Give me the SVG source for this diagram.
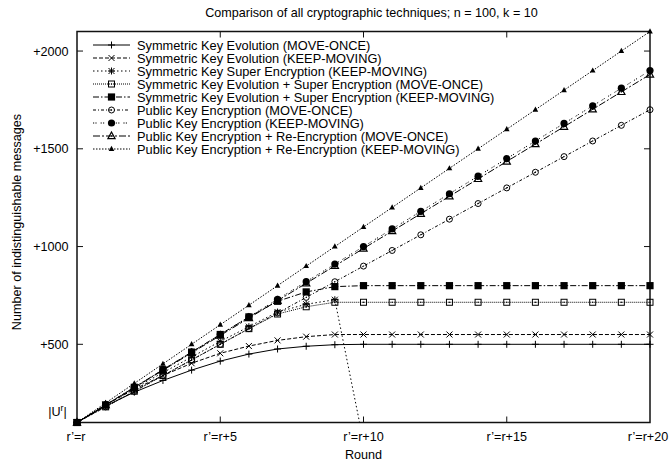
<svg xmlns="http://www.w3.org/2000/svg" width="670" height="460" viewBox="0 0 670 460">
<style>
text{font-family:"Liberation Sans",Arial,Helvetica,sans-serif;font-size:12.6px;fill:#000}
#legend text{font-size:12.8px}
.c{fill:none;stroke:#000;stroke-width:1}
.l1{}
.l2{stroke-dasharray:4,2}
.l3{stroke-dasharray:1.5,2.5}
.l4{stroke-dasharray:1,1}
.l5{stroke-dasharray:6,2,1.5,2}
.l6{stroke-dasharray:3,2,1,2}
.l7{stroke-dasharray:1.2,1.2,1.2,4}
.l8{stroke-dasharray:7,2,2,2}
.l9{stroke-dasharray:1.5,1.5}
.frame{fill:none;stroke:#111;stroke-width:1.5}
.tick{stroke:#111;stroke-width:1}
.m1{marker-start:url(#mPlus);marker-mid:url(#mPlus);marker-end:url(#mPlus)}
.m2{marker-start:url(#mCross);marker-mid:url(#mCross);marker-end:url(#mCross)}
.m3{marker-start:url(#mStar);marker-mid:url(#mStar)}
.m4{marker-start:url(#mOSq);marker-mid:url(#mOSq);marker-end:url(#mOSq)}
.m5{marker-start:url(#mFSq);marker-mid:url(#mFSq);marker-end:url(#mFSq)}
.m6{marker-start:url(#mOCi);marker-mid:url(#mOCi);marker-end:url(#mOCi)}
.m7{marker-start:url(#mFCi);marker-mid:url(#mFCi);marker-end:url(#mFCi)}
.m8{marker-start:url(#mOTr);marker-mid:url(#mOTr);marker-end:url(#mOTr)}
.m9{marker-start:url(#mFTr);marker-mid:url(#mFTr);marker-end:url(#mFTr)}
</style>
<defs>
<marker id="mPlus" markerUnits="userSpaceOnUse" viewBox="-5 -5 10 10" markerWidth="10" markerHeight="10" refX="0" refY="0" overflow="visible"><path d="M-3.5,0H3.5M0,-3.5V3.5" stroke="#000" stroke-width="1" fill="none"/></marker>
<marker id="mCross" markerUnits="userSpaceOnUse" viewBox="-5 -5 10 10" markerWidth="10" markerHeight="10" refX="0" refY="0" overflow="visible"><path d="M-3,-3L3,3M-3,3L3,-3" stroke="#000" stroke-width="1" fill="none"/></marker>
<marker id="mStar" markerUnits="userSpaceOnUse" viewBox="-5 -5 10 10" markerWidth="10" markerHeight="10" refX="0" refY="0" overflow="visible"><path d="M-3.5,0H3.5M0,-3.5V3.5M-3,-3L3,3M-3,3L3,-3" stroke="#000" stroke-width="1" fill="none"/></marker>
<marker id="mOSq" markerUnits="userSpaceOnUse" viewBox="-5 -5 10 10" markerWidth="10" markerHeight="10" refX="0" refY="0" overflow="visible"><rect x="-3" y="-3" width="6" height="6" fill="none" stroke="#000" stroke-width="1"/><rect x="-0.6" y="-0.6" width="1.2" height="1.2" fill="#000"/></marker>
<marker id="mFSq" markerUnits="userSpaceOnUse" viewBox="-5 -5 10 10" markerWidth="10" markerHeight="10" refX="0" refY="0" overflow="visible"><rect x="-3.6" y="-3.6" width="7.2" height="7.2" fill="#000"/></marker>
<marker id="mOCi" markerUnits="userSpaceOnUse" viewBox="-5 -5 10 10" markerWidth="10" markerHeight="10" refX="0" refY="0" overflow="visible"><circle r="3" fill="none" stroke="#000" stroke-width="1"/><circle r="0.7" fill="#000"/></marker>
<marker id="mFCi" markerUnits="userSpaceOnUse" viewBox="-5 -5 10 10" markerWidth="10" markerHeight="10" refX="0" refY="0" overflow="visible"><circle r="3.6" fill="#000"/></marker>
<marker id="mOTr" markerUnits="userSpaceOnUse" viewBox="-5 -5 10 10" markerWidth="10" markerHeight="10" refX="0" refY="0" overflow="visible"><polygon points="0,-4 3.6,2.6 -3.6,2.6" fill="none" stroke="#000" stroke-width="1.2"/><circle r="0.7" fill="#000"/></marker>
<marker id="mFTr" markerUnits="userSpaceOnUse" viewBox="-5 -5 10 10" markerWidth="10" markerHeight="10" refX="0" refY="0" overflow="visible"><polygon points="0,-3.2 2.8,2 -2.8,2" fill="#000"/></marker>
</defs>
<rect width="670" height="460" fill="#fff"/>

<g id="title"><text x="371.5" y="17" text-anchor="middle">Comparison of all cryptographic techniques; n = 100, k = 10</text></g>

<g id="axes">
<rect class="frame" x="77" y="31.5" width="573" height="391"/>
<path class="tick" d="M77,51.05h6M77,148.8h6M77,246.55h6M77,344.3h6M650,51.05h-6M650,148.8h-6M650,246.55h-6M650,344.3h-6M220.25,422.5v-6M363.5,422.5v-6M506.75,422.5v-6M220.25,31.5v6M363.5,31.5v6M506.75,31.5v6"/>
<text x="68.5" y="55.5" text-anchor="end">+2000</text>
<text x="68.5" y="153.3" text-anchor="end">+1500</text>
<text x="68.5" y="251" text-anchor="end">+1000</text>
<text x="68.5" y="348.8" text-anchor="end">+500</text>
<text x="66.8" y="416" text-anchor="end">|U<tspan dy="-5" font-size="9">r</tspan><tspan dy="5">|</tspan></text>
<text x="76" y="441" text-anchor="middle">r’=r</text>
<text x="220.25" y="441" text-anchor="middle">r’=r+5</text>
<text x="363.5" y="441" text-anchor="middle">r’=r+10</text>
<text x="506.75" y="441" text-anchor="middle">r’=r+15</text>
<text x="648" y="441" text-anchor="middle">r’=r+20</text>
<text x="363.5" y="458.5" text-anchor="middle">Round</text>
<text transform="translate(21,222) rotate(-90)" text-anchor="middle">Number of indistinguishable messages</text>
</g>

<g id="connectors">
<polyline id="c1" class="c l1 m1" points="77,422.5 105.65,405.88 134.3,392.2 162.95,380.47 191.6,370.11 220.25,361.11 248.9,354.07 277.55,348.99 306.2,346.25 334.85,344.69 363.5,344.3 392.15,344.3 420.8,344.3 449.45,344.3 478.1,344.3 506.75,344.3 535.4,344.3 564.05,344.3 592.7,344.3 621.35,344.3 650,344.3"/>
<polyline id="c2" class="c l2 m2" points="77,422.5 105.65,404.9 134.3,389.26 162.95,375.58 191.6,363.26 220.25,353.29 248.9,346.06 277.55,340.39 306.2,336.68 334.85,334.52 363.5,334.52 392.15,334.52 420.8,334.52 449.45,334.52 478.1,334.52 506.75,334.52 535.4,334.52 564.05,334.52 592.7,334.52 621.35,334.52 650,334.52"/>
<polyline id="c3" class="c l3 m3" points="77,422.5 105.65,404.9 134.3,388.29 162.95,372.65 191.6,357.01 220.25,341.37 248.9,326.7 277.55,312.04 306.2,304.22 334.85,299.73 359.56,422.5"/>
<polyline id="c4" class="c l4 m4" points="77,422.5 105.65,406.86 134.3,391.22 162.95,375.58 191.6,359.94 220.25,344.3 248.9,328.66 277.55,314 306.2,306.76 334.85,302.27 363.5,302.27 392.15,302.27 420.8,302.27 449.45,302.27 478.1,302.27 506.75,302.27 535.4,302.27 564.05,302.27 592.7,302.27 621.35,302.27 650,302.27"/>
<polyline id="c5" class="c l5 m5" points="77,422.5 105.65,404.9 134.3,387.3 162.95,369.7 191.6,352.1 220.25,334.5 248.9,316.9 277.55,301.29 306.2,291.91 334.85,286.63 363.5,285.65 392.15,285.65 420.8,285.65 449.45,285.65 478.1,285.65 506.75,285.65 535.4,285.65 564.05,285.65 592.7,285.65 621.35,285.65 650,285.65"/>
<polyline id="c6" class="c l6 m6" points="77,422.5 105.65,406.86 134.3,391.22 162.95,375.58 191.6,359.94 220.25,344.3 248.9,328.66 277.55,313.02 306.2,297.38 334.85,281.74 363.5,266.1 392.15,250.46 420.8,234.82 449.45,219.18 478.1,203.54 506.75,187.9 535.4,172.26 564.05,156.62 592.7,140.98 621.35,125.34 650,109.7"/>
<polyline id="c7" class="c l7 m7" points="77,422.5 105.65,404.9 134.3,387.3 162.95,369.7 191.6,352.1 220.25,334.5 248.9,316.9 277.55,299.3 306.2,281.7 334.85,264.1 363.5,246.55 392.15,228.95 420.8,211.35 449.45,193.75 478.1,176.15 506.75,158.6 535.4,141 564.05,123.4 592.7,105.8 621.35,88.2 650,70.6"/>
<polyline id="c8" class="c l8 m8" points="77,422.5 105.65,405.1 134.3,387.7 162.95,370.3 191.6,352.9 220.25,335.5 248.9,318.1 277.55,300.7 306.2,283.3 334.85,265.9 363.5,248.5 392.15,231.1 420.8,213.7 449.45,196.3 478.1,178.9 506.75,161.5 535.4,144.1 564.05,126.7 592.7,109.3 621.35,91.9 650,74.5"/>
<polyline id="c9" class="c l9 m9" points="77,422.5 105.65,402.95 134.3,383.4 162.95,363.85 191.6,344.3 220.25,324.75 248.9,305.2 277.55,285.65 306.2,266.1 334.85,246.55 363.5,227 392.15,207.45 420.8,187.9 449.45,168.35 478.1,148.8 506.75,129.25 535.4,109.7 564.05,90.15 592.7,70.6 621.35,51.05 650,31.5"/>
</g>

<g id="legend">
<g id="leg1"><polyline class="c l1 m1" points="93,45 111.5,45 130,45" style="marker-start:none;marker-end:none"/><text x="137" y="49.5">Symmetric Key Evolution (MOVE-ONCE)</text></g>
<g id="leg2"><polyline class="c l2 m2" points="93,58 111.5,58 130,58" style="marker-start:none;marker-end:none"/><text x="137" y="62.5">Symmetric Key Evolution (KEEP-MOVING)</text></g>
<g id="leg3"><polyline class="c l3 m3" points="93,71 111.5,71 130,71" style="marker-start:none;marker-end:none"/><text x="137" y="75.5">Symmetric Key Super Encryption (KEEP-MOVING)</text></g>
<g id="leg4"><polyline class="c l4 m4" points="93,84 111.5,84 130,84" style="marker-start:none;marker-end:none"/><text x="137" y="88.5">Symmetric Key Evolution + Super Encryption (MOVE-ONCE)</text></g>
<g id="leg5"><polyline class="c l5 m5" points="93,97 111.5,97 130,97" style="marker-start:none;marker-end:none"/><text x="137" y="101.5">Symmetric Key Evolution + Super Encryption (KEEP-MOVING)</text></g>
<g id="leg6"><polyline class="c l6 m6" points="93,110 111.5,110 130,110" style="marker-start:none;marker-end:none"/><text x="137" y="114.5">Public Key Encryption (MOVE-ONCE)</text></g>
<g id="leg7"><polyline class="c l7 m7" points="93,123 111.5,123 130,123" style="marker-start:none;marker-end:none"/><text x="137" y="127.5">Public Key Encryption (KEEP-MOVING)</text></g>
<g id="leg8"><polyline class="c l8 m8" points="93,136 111.5,136 130,136" style="marker-start:none;marker-end:none"/><text x="137" y="140.5">Public Key Encryption + Re-Encryption (MOVE-ONCE)</text></g>
<g id="leg9"><polyline class="c l9 m9" points="93,149 111.5,149 130,149" style="marker-start:none;marker-end:none"/><text x="137" y="153.5">Public Key Encryption + Re-Encryption (KEEP-MOVING)</text></g>
</g>
</svg>
